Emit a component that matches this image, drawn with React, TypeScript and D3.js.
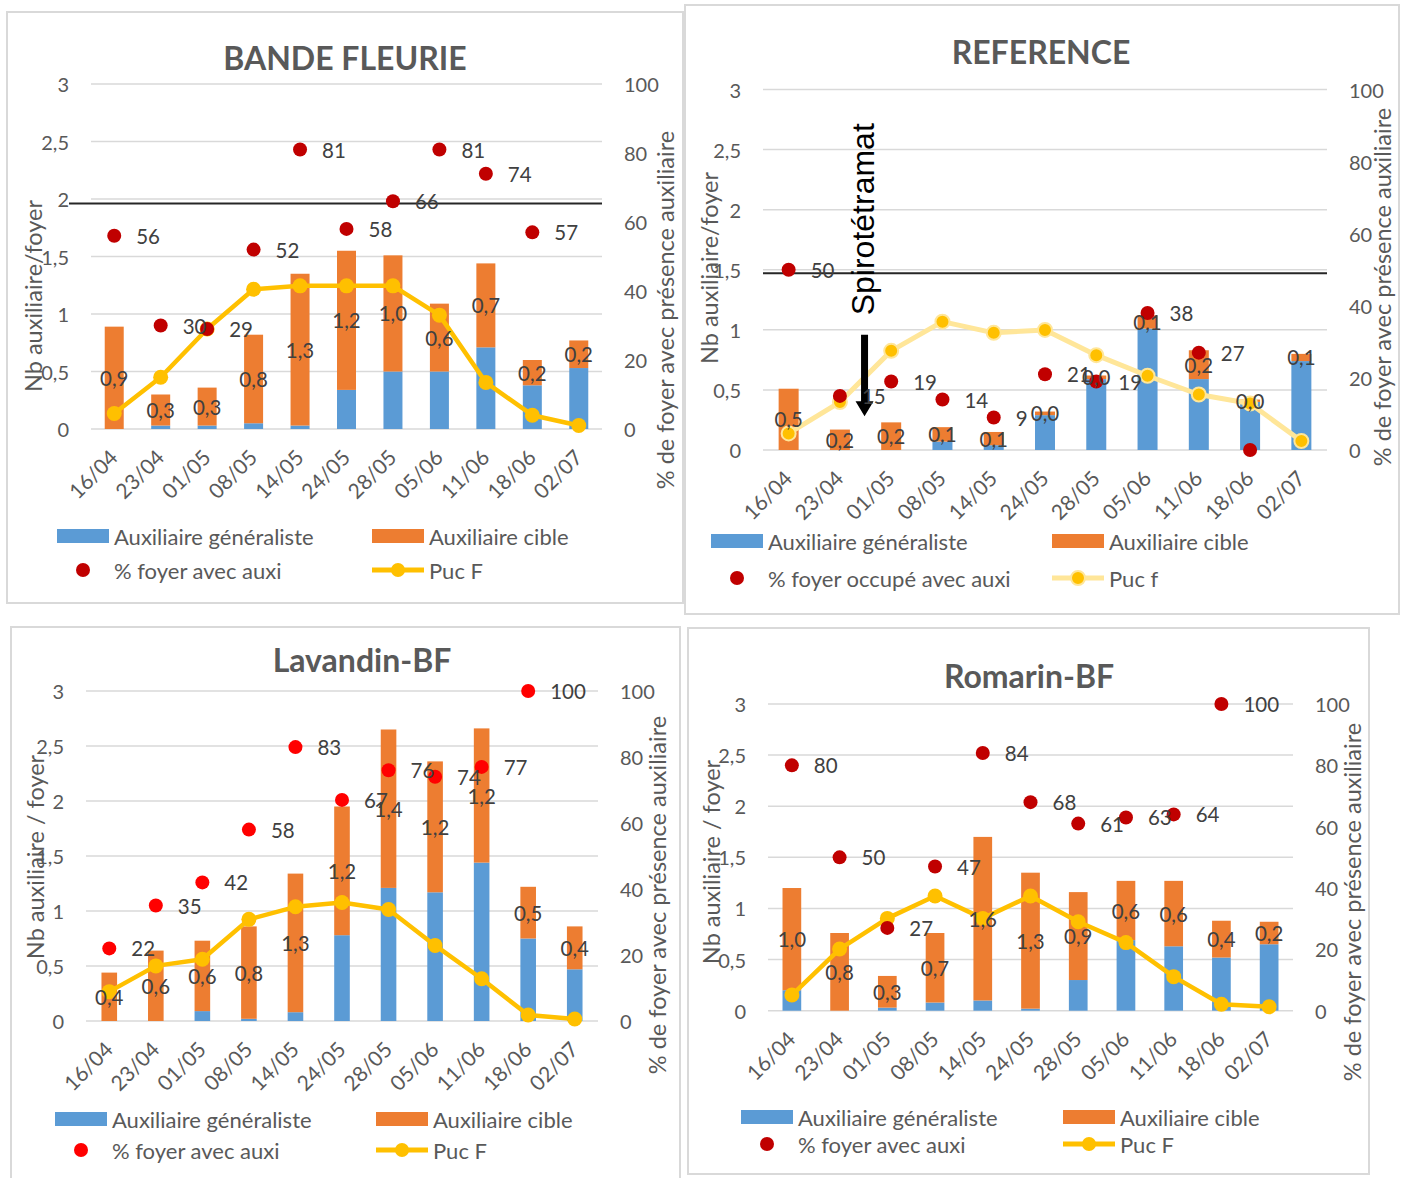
import React from 'react';
import * as d3 from 'd3';

const categories = ['16/04', '23/04', '01/05', '08/05', '14/05', '24/05', '28/05', '05/06', '11/06', '18/06', '02/07'];
const leftTicks = [0, 0.5, 1, 1.5, 2, 2.5, 3];
const rightTicks = [0, 20, 40, 60, 80, 100];

// BANDE FLEURIE
const bfGeneraliste = [0.0, 0.03, 0.03, 0.05, 0.03, 0.34, 0.5, 0.5, 0.71, 0.38, 0.53];
const bfCible = [0.89, 0.27, 0.33, 0.77, 1.32, 1.21, 1.01, 0.59, 0.73, 0.22, 0.24];
const bfPct = [56, 30, 29, 52, 81, 58, 66, 81, 74, 57, null];
const bfPuc = [4.5, 15, 29, 40.5, 41.5, 41.5, 41.5, 33, 13.5, 4, 1];
const bfThreshold = 1.96;

// REFERENCE
const refGeneraliste = [0, 0, 0, 0.07, 0.04, 0.29, 0.59, 1.01, 0.59, 0.4, 0.74];
const refCible = [0.51, 0.17, 0.23, 0.12, 0.11, 0.03, 0.03, 0.11, 0.24, 0.02, 0.06];
const refPct = [50, 15, 19, 14, 9, 21, 19, 38, 27, 0, null];
const refPuc = [4.6, 13.3, 27.5, 35.6, 32.5, 33.3, 26.3, 20.6, 15.4, 12.9, 2.5];
const refThreshold = 1.47;

// Lavandin-BF
const lavGeneraliste = [0, 0, 0.09, 0.02, 0.08, 0.78, 1.21, 1.17, 1.44, 0.75, 0.47];
const lavCible = [0.44, 0.64, 0.64, 0.84, 1.26, 1.17, 1.44, 1.19, 1.22, 0.47, 0.39];
const lavPct = [22, 35, 42, 58, 83, 67, 76, 74, 77, 100, null];
const lavPuc = [8.9, 16.7, 18.7, 30.8, 34.6, 35.9, 33.8, 22.9, 12.8, 1.8, 0.6];

// Romarin-BF
const romGeneraliste = [0.2, 0, 0.03, 0.08, 0.1, 0.02, 0.3, 0.69, 0.63, 0.52, 0.65];
const romCible = [1.0, 0.76, 0.31, 0.68, 1.6, 1.33, 0.86, 0.58, 0.64, 0.36, 0.22];
const romPct = [80, 50, 27, 47, 84, 68, 61, 63, 64, 100, null];
const romPuc = [5.1, 20.1, 30.1, 37.4, 30.1, 37.4, 29, 22.2, 11.1, 2.1, 1.3];

const BLUE = '#5B9BD5';
const ORANGE = '#ED7D31';
const YELLOW = '#FFC000';
const PALE = '#FFE699';
const DARKRED = '#C00000';
const RED = '#FF0000';
const AXIS = '#595959';
const LABEL = '#404040';
const GRID = '#D9D9D9';
const FONT = 'Lato, "Open Sans", sans-serif';

const fmt = (v: number) => v.toFixed(1).replace('.', ',');

type PanelCfg = {
  title: string;
  gen: number[];
  cible: number[];
  pct: (number | null)[];
  puc: number[];
  threshold?: number;
  thresholdExtendLeft?: number;
  frame: [number, number, number, number];
  x0: number; x1: number; y0: number; yTop: number;
  barW: number;
  titleX: number; titleY: number;
  leftTitle: string; leftTitleX: number; leftTitleY: number;
  rightTitleX: number; rightTitleY: number;
  legendRows: [number, number];
  legendCols: [number, number];
  dotColor: string;
  pucPale?: boolean;
  pctLegend: string;
  pucLegend: string;
  spiro?: boolean;
};

const panels: PanelCfg[] = [
  {
    title: 'BANDE FLEURIE', gen: bfGeneraliste, cible: bfCible, pct: bfPct, puc: bfPuc,
    threshold: bfThreshold, thresholdExtendLeft: 22,
    frame: [7, 12, 676, 591], x0: 91, x1: 602, y0: 429, yTop: 84, barW: 19,
    titleX: 345, titleY: 57, leftTitle: 'Nb auxiliaire/foyer', leftTitleX: 33, leftTitleY: 296,
    rightTitleX: 665, rightTitleY: 310, legendRows: [536, 570], legendCols: [57, 372],
    dotColor: DARKRED, pctLegend: '% foyer avec auxi', pucLegend: 'Puc F',
  },
  {
    title: 'REFERENCE', gen: refGeneraliste, cible: refCible, pct: refPct, puc: refPuc,
    threshold: refThreshold, thresholdExtendLeft: 0,
    frame: [685, 5, 714, 609], x0: 763, x1: 1327, y0: 450, yTop: 89.5, barW: 20,
    titleX: 1041, titleY: 51, leftTitle: 'Nb auxiliaire/foyer', leftTitleX: 709, leftTitleY: 268,
    rightTitleX: 1382, rightTitleY: 287, legendRows: [541, 578], legendCols: [711, 1052],
    dotColor: DARKRED, pucPale: true, pctLegend: '% foyer occupé avec auxi', pucLegend: 'Puc f', spiro: true,
  },
  {
    title: 'Lavandin-BF', gen: lavGeneraliste, cible: lavCible, pct: lavPct, puc: lavPuc,
    frame: [11, 627, 669, 570], x0: 86, x1: 598, y0: 1021, yTop: 691, barW: 15.6,
    titleX: 362, titleY: 659, leftTitle: 'Nb auxiliaire / foyer', leftTitleX: 35, leftTitleY: 857,
    rightTitleX: 657, rightTitleY: 895, legendRows: [1119, 1150], legendCols: [55, 376],
    dotColor: RED, pctLegend: '% foyer avec auxi', pucLegend: 'Puc F',
  },
  {
    title: 'Romarin-BF', gen: romGeneraliste, cible: romCible, pct: romPct, puc: romPuc,
    frame: [688, 628, 681, 546], x0: 768, x1: 1293, y0: 1010.7, yTop: 704, barW: 18.7,
    titleX: 1029, titleY: 675, leftTitle: 'Nb auxiliaire / foyer', leftTitleX: 711, leftTitleY: 862,
    rightTitleX: 1352, rightTitleY: 902, legendRows: [1117, 1144], legendCols: [741, 1063],
    dotColor: DARKRED, pctLegend: '% foyer avec auxi', pucLegend: 'Puc F',
  },
];

function Panel({ p }: { p: PanelCfg }) {
  const x = d3.scaleBand<string>().domain(categories).range([p.x0, p.x1]);
  const yL = d3.scaleLinear().domain([0, 3]).range([p.y0, p.yTop]);
  const yR = d3.scaleLinear().domain([0, 100]).range([p.y0, p.yTop]);
  const cx = (i: number) => (x(categories[i]) as number) + x.bandwidth() / 2;
  const pucLine = d3.line<number>().x((_, i) => cx(i)).y((d) => yR(d));
  const lineColor = p.pucPale ? PALE : YELLOW;
  const [fx, fy, fw, fh] = p.frame;
  const [c1, c2] = p.legendCols;
  const [r1, r2] = p.legendRows;

  const spiro = p.spiro ? (() => {
    const ax = (cx(1) + cx(2)) / 2 - 1;
    const top = yL(0.96);
    const bot = yL(0.28);
    const head = 15;
    return (
      <g>
        <text transform={`translate(${ax - 2},${yL(1.92)}) rotate(-90)`} textAnchor="middle" dominantBaseline="central" fontSize={32} fontFamily='"Liberation Sans", Arial, sans-serif' fill="#000">Spirotétramat</text>
        <path d={`M${ax - 3.5},${top} L${ax + 3.5},${top} L${ax + 3.5},${bot - head} L${ax + 9},${bot - head} L${ax},${bot} L${ax - 9},${bot - head} L${ax - 3.5},${bot - head} Z`} fill="#000" />
      </g>
    );
  })() : null;

  return (
    <g fontFamily={FONT}>
      <rect x={fx} y={fy} width={fw} height={fh} fill="#fff" stroke={GRID} strokeWidth={2} />
      <text x={p.titleX} y={p.titleY} textAnchor="middle" dominantBaseline="central" fontSize={32} fontWeight="bold" fill={AXIS}>{p.title}</text>
      {leftTicks.map((t) => (
        <g key={'g' + t}>
          <line x1={p.x0} x2={p.x1} y1={yL(t)} y2={yL(t)} stroke={GRID} strokeWidth={1.5} />
          <text x={p.x0 - 22} y={yL(t)} textAnchor="end" dominantBaseline="central" fontSize={20} fill={AXIS}>{String(t).replace('.', ',')}</text>
        </g>
      ))}
      {rightTicks.map((t) => (
        <text key={'r' + t} x={p.x1 + 22} y={yR(t)} textAnchor="start" dominantBaseline="central" fontSize={20} fill={AXIS}>{t}</text>
      ))}
      <text transform={`translate(${p.leftTitleX},${p.leftTitleY}) rotate(-90)`} textAnchor="middle" dominantBaseline="central" fontSize={23.5} fill={AXIS}>{p.leftTitle}</text>
      <text transform={`translate(${p.rightTitleX},${p.rightTitleY}) rotate(-90)`} textAnchor="middle" dominantBaseline="central" fontSize={23.5} fill={AXIS}>% de foyer avec présence auxiliaire</text>
      {categories.map((c, i) => (
        <text key={'x' + c} transform={`translate(${cx(i) + 5},${p.y0 + 30}) rotate(-45)`} textAnchor="end" fontSize={21} fill={AXIS}>{c}</text>
      ))}
      {p.threshold !== undefined && (
        <line x1={p.x0 - (p.thresholdExtendLeft || 0)} x2={p.x1} y1={yL(p.threshold)} y2={yL(p.threshold)} stroke="#262626" strokeWidth={2} />
      )}
      {categories.map((c, i) => (
        <g key={'b' + c}>
          <rect x={cx(i) - p.barW / 2} y={yL(p.gen[i])} width={p.barW} height={yL(0) - yL(p.gen[i])} fill={BLUE} />
          <rect x={cx(i) - p.barW / 2} y={yL(p.gen[i] + p.cible[i])} width={p.barW} height={yL(p.gen[i]) - yL(p.gen[i] + p.cible[i])} fill={ORANGE} />
        </g>
      ))}
      <path d={pucLine(p.puc) || ''} fill="none" stroke={lineColor} strokeWidth={p.pucPale ? 5 : 4.5} strokeLinejoin="round" />
      {p.puc.map((v, i) => (
        <circle key={'m' + i} cx={cx(i)} cy={yR(v)} r={p.pucPale ? 7 : 7.5} fill={YELLOW} stroke={p.pucPale ? PALE : YELLOW} strokeWidth={p.pucPale ? 2 : 0} />
      ))}
      {p.pct.map((v, i) => v === null ? null : (
        <circle key={'d' + i} cx={cx(i)} cy={yR(v)} r={7} fill={p.dotColor} />
      ))}
      {spiro}
      {categories.map((c, i) => (
        <text key={'l' + c} x={cx(i)} y={yL(p.gen[i] + p.cible[i] / 2)} textAnchor="middle" dominantBaseline="central" fontSize={20.5} fill={LABEL}>{fmt(p.cible[i])}</text>
      ))}
      {p.pct.map((v, i) => (v === null || v <= 0) ? null : (
        <text key={'pl' + i} x={cx(i) + 22} y={yR(v)} textAnchor="start" dominantBaseline="central" fontSize={20.5} fill={LABEL}>{v}</text>
      ))}
      {/* legend */}
      <rect x={c1} y={r1 - 7} width={52} height={14} fill={BLUE} />
      <text x={c1 + 57} y={r1} dominantBaseline="central" fontSize={22} fill={AXIS}>Auxiliaire généraliste</text>
      <rect x={c2} y={r1 - 7} width={52} height={14} fill={ORANGE} />
      <text x={c2 + 57} y={r1} dominantBaseline="central" fontSize={22} fill={AXIS}>Auxiliaire cible</text>
      <circle cx={c1 + 26} cy={r2} r={7} fill={p.dotColor} />
      <text x={c1 + 57} y={r2} dominantBaseline="central" fontSize={22} fill={AXIS}>{p.pctLegend}</text>
      <line x1={c2} x2={c2 + 52} y1={r2} y2={r2} stroke={lineColor} strokeWidth={5} />
      <circle cx={c2 + 26} cy={r2} r={7} fill={YELLOW} stroke={p.pucPale ? PALE : YELLOW} strokeWidth={p.pucPale ? 2 : 0} />
      <text x={c2 + 57} y={r2} dominantBaseline="central" fontSize={22} fill={AXIS}>{p.pucLegend}</text>
    </g>
  );
}

export default function App() {
  return (
    <svg width={1402} height={1178} style={{ position: 'absolute', left: 0, top: 0, background: '#fff' }}>
      <rect x={0} y={0} width={1402} height={1178} fill="#fff" />
      {panels.map((p) => <Panel key={p.title} p={p} />)}
    </svg>
  );
}
